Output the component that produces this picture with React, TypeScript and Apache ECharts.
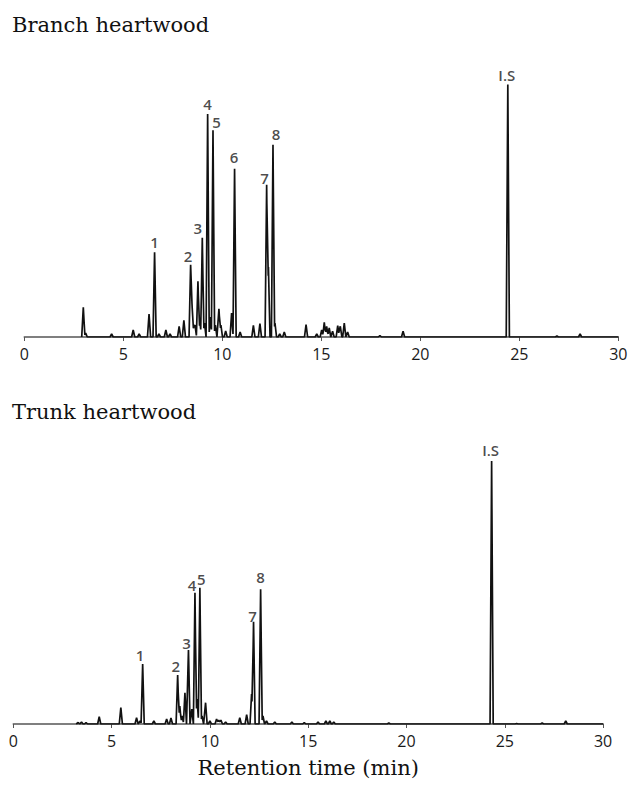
import React, { useEffect, useRef } from "react";
import * as echarts from "echarts";

// ---------- DATA ----------
const tickValues = [0, 5, 10, 15, 20, 25, 30];

// Branch heartwood: retention times (min) and peak heights (relative units)
const branchTimes = [
  2.98, 3.1, 4.41, 5.5, 5.8, 6.3, 6.58, 6.8, 7.15, 7.36, 7.82, 8.06, 8.4, 8.47, 8.55,
  8.62, 8.77, 8.87, 8.99, 9.1, 9.26, 9.4, 9.53, 9.65, 9.83, 9.93, 10.17, 10.47, 10.62,
  10.9, 11.57, 11.9, 12.24, 12.33, 12.56, 12.66, 12.9, 13.13, 14.23, 14.77, 15.02, 15.15,
  15.27, 15.4, 15.57, 15.83, 15.96, 16.16, 16.33, 17.96, 19.13, 24.42, 26.9, 28.07,
];
const branchHeights = [
  29.7, 4, 3, 7, 3, 23, 84.7, 3, 7, 3, 10.7, 16.7, 72.3, 33, 10,
  12, 55.7, 15, 99.3, 14, 223, 20, 206.7, 12, 28.3, 12, 6, 24, 168.3,
  5, 11.7, 13.3, 152.3, 70, 192.3, 14, 3, 5, 12.3, 3, 7, 14.7,
  10.7, 9, 5.7, 11.3, 10.7, 14, 5, 1.5, 5.7, 252.5, 1, 3,
];
const branchLabelNames = ["1", "2", "3", "4", "5", "6", "7", "8", "I.S"];
const branchLabelTimes = [6.58, 8.4, 8.99, 9.26, 9.53, 10.62, 12.24, 12.56, 24.42];

// Trunk heartwood
const trunkTimes = [
  3.3, 3.47, 3.7, 4.37, 5.47, 6.27, 6.45, 6.58, 7.15, 7.8, 8.02, 8.36, 8.47, 8.59, 8.73,
  8.91, 9.08, 9.24, 9.35, 9.49, 9.6, 9.78, 10.0, 10.34, 10.45, 10.56, 10.8, 11.52, 11.87,
  12.12, 12.22, 12.58, 12.7, 12.88, 13.3, 14.17, 14.8, 15.5, 15.9, 16.1, 16.3, 19.1,
  24.33, 25.6, 26.9, 28.1,
];
const trunkHeights = [
  1.5, 2, 1.5, 7.3, 16.3, 6.3, 3, 60, 3, 5, 6, 49, 18, 8, 31.3,
  74, 15, 131.3, 25, 136.3, 8, 21.3, 3, 5, 4, 4, 2, 6.3, 9.3,
  30, 102.3, 134.7, 8, 3, 2, 2, 1.5, 2, 3, 3, 2, 1,
  263, 0.5, 1, 3,
];
const trunkLabelNames = ["1", "2", "3", "4", "5", "7", "8", "I.S"];
const trunkLabelTimes = [6.58, 8.36, 8.91, 9.24, 9.49, 12.22, 12.58, 24.33];

// ---------- STYLE ----------
const branchLabelOffsets = [
  [0, 0], [-2.5, 1], [-4.5, 0], [0, 0], [3.5, 2], [-0.5, -1.5], [-2, 3], [3, -1], [-1, 0],
];
const trunkLabelOffsets = [
  [-2.7, 1], [-2, 1], [-2, 3], [-3, 2], [1.5, 1], [-1, 4], [0, -2], [-1, -1],
];
const HALF_WIDTH = 0.08;
const LINE_COLOR = "#111111";
const LABEL_COLOR = "#1c1c1c";

function buildTrace(times: number[], heights: number[], start: number, end: number) {
  const xs = new Set<number>([start, end]);
  times.forEach((t) => {
    xs.add(+(t - HALF_WIDTH).toFixed(4));
    xs.add(t);
    xs.add(+(t + HALF_WIDTH).toFixed(4));
  });
  const sorted = Array.from(xs).sort((a, b) => a - b);
  return sorted.map((x) => {
    let y = 0;
    times.forEach((t, i) => {
      const v = heights[i] * Math.max(0, 1 - Math.abs(x - t) / HALF_WIDTH);
      if (v > y) y = v;
    });
    return [x, y];
  });
}

function buildLabels(
  names: string[],
  labelTimes: number[],
  times: number[],
  heights: number[],
  offsets: number[][]
) {
  return names.map((name, i) => {
    const idx = times.indexOf(labelTimes[i]);
    const h = idx >= 0 ? heights[idx] : 0;
    return {
      name,
      value: [labelTimes[i], h],
      label: {
        offset: [offsets[i][0], offsets[i][1]],
        color: LABEL_COLOR,
        textBorderWidth: 0,
      },
    };
  });
}

const xAxisBase = (gridIndex: number, extra: any = {}) => ({
  type: "value",
  gridIndex,
  min: 0,
  max: 30,
  interval: 5,
  axisLine: { show: true, onZero: false, lineStyle: { color: "#555", width: 1.6 } },
  axisTick: { show: true, length: 4, lineStyle: { color: "#555", width: 1 } },
  axisLabel: {
    fontSize: 16,
    color: "#1a1a1a",
    margin: 9,
    fontFamily: "'Open Sans', 'Liberation Sans', sans-serif",
    formatter: (v: number) => (tickValues.indexOf(v) >= 0 ? String(v) : ""),
  },
  splitLine: { show: false },
  ...extra,
});

const labelSeries = (xi: number, data: any[]) => ({
  type: "scatter",
  xAxisIndex: xi,
  yAxisIndex: xi,
  symbolSize: 1,
  itemStyle: { color: "rgba(255,255,255,0)" },
  silent: true,
  data,
  label: {
    show: true,
    position: "top",
    distance: 2,
    formatter: (p: any) => p.name,
    fontSize: 15,
    fontWeight: 600,
    color: LABEL_COLOR,
    textBorderWidth: 0,
    fontFamily: "'Open Sans', 'Liberation Sans', sans-serif",
  },
  z: 5,
});

export default function App() {
  const ref = useRef<HTMLDivElement>(null);
  useEffect(() => {
    if (!ref.current) return;
    const chart = echarts.init(ref.current, undefined, { renderer: "svg" });
    const serif = "'DejaVu Serif', serif";
    chart.setOption({
      animation: false,
      backgroundColor: "#ffffff",
      title: [
        {
          text: "Branch heartwood",
          left: 12,
          top: 14,
          padding: 0,
          textStyle: { fontFamily: serif, fontSize: 21, fontWeight: "normal", color: "#111" },
        },
        {
          text: "Trunk heartwood",
          left: 12,
          top: 401,
          padding: 0,
          textStyle: { fontFamily: serif, fontSize: 21, fontWeight: "normal", color: "#111" },
        },
      ],
      grid: [
        { left: 24.3, width: 594, top: 77, height: 260 },
        { left: 13.3, width: 589.8, top: 454, height: 270 },
      ],
      xAxis: [
        xAxisBase(0),
        xAxisBase(1, {
          name: "Retention time (min)",
          nameLocation: "middle",
          nameGap: 33,
          nameTextStyle: { fontFamily: serif, fontSize: 21, color: "#111" },
        }),
      ],
      yAxis: [
        { type: "value", gridIndex: 0, min: 0, max: 260, show: false },
        { type: "value", gridIndex: 1, min: 0, max: 270, show: false },
      ],
      series: [
        {
          type: "line",
          xAxisIndex: 0,
          yAxisIndex: 0,
          showSymbol: false,
          symbol: "none",
          lineStyle: { color: LINE_COLOR, width: 1.7 },
          data: buildTrace(branchTimes, branchHeights, 2.9, 30),
          z: 3,
        },
        {
          type: "line",
          xAxisIndex: 1,
          yAxisIndex: 1,
          showSymbol: false,
          symbol: "none",
          lineStyle: { color: LINE_COLOR, width: 1.7 },
          data: buildTrace(trunkTimes, trunkHeights, 3.2, 30),
          z: 3,
        },
        labelSeries(
          0,
          buildLabels(branchLabelNames, branchLabelTimes, branchTimes, branchHeights, branchLabelOffsets)
        ),
        labelSeries(
          1,
          buildLabels(trunkLabelNames, trunkLabelTimes, trunkTimes, trunkHeights, trunkLabelOffsets)
        ),
      ],
    });
    return () => chart.dispose();
  }, []);
  return (
    <div
      ref={ref}
      style={{ position: "absolute", left: 0, top: 0, width: 632, height: 791 }}
    />
  );
}
